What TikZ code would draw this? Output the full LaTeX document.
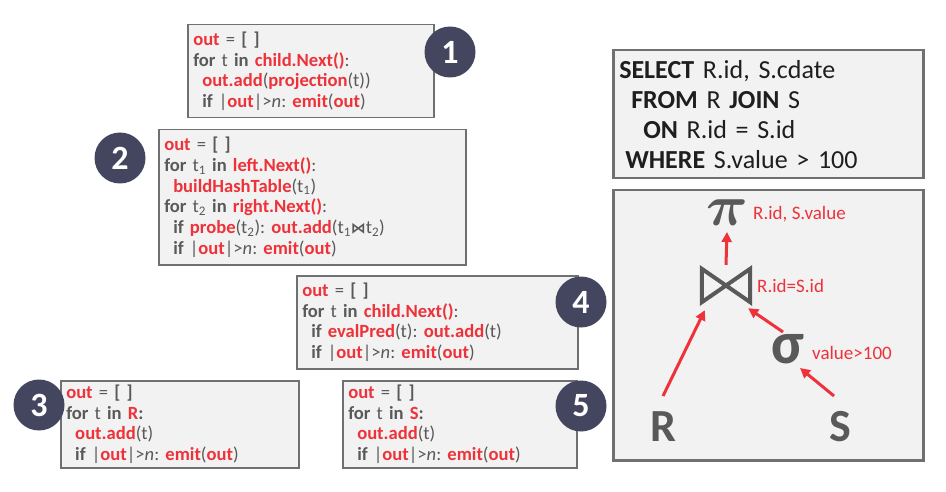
\RequirePackage{fix-cm}
\documentclass[tikz,border=0pt]{standalone}
\usepackage{fontspec}
\setmainfont{Carlito}
\newfontfamily\dvs{DejaVu Sans}
\usetikzlibrary{arrows.meta}
\definecolor{cred}{RGB}{237,50,58}
\definecolor{cgray}{RGB}{89,89,89}
\definecolor{cfill}{RGB}{242,242,242}
\definecolor{cborder}{RGB}{112,112,112}
\definecolor{cnavy}{RGB}{68,70,96}
\definecolor{ctext}{RGB}{30,30,30}
\frenchspacing
\newcommand{\rb}[1]{\textcolor{cred}{\textbf{#1}}}
\newcommand{\gb}[1]{\textbf{#1}}
\newcommand{\ind}{\hspace*{9pt}}
\newcommand{\ifline}{\ind\gb{if} |\rb{out}|>\textit{n}: \rb{emit}(\rb{out})}
\newcommand{\outline}{\rb{out} = \gb{[ ]}}
\tikzset{
  codebox/.style={draw=cborder, fill=cfill, line width=1.5pt, anchor=north west,
    inner xsep=5.5pt, inner ysep=0pt, align=left, text=cgray,
    font=\fontsize{18.6}{20.8}\selectfont\frenchspacing},
  numcirc/.style={circle, fill=cnavy, minimum size=51pt, inner sep=0pt, text=white,
    font=\fontsize{34}{34}\selectfont\bfseries},
  bigbox/.style={draw=cborder, fill=cfill, line width=2.5pt, anchor=north west, inner sep=0pt},
  arr/.style={draw=cred, line width=3pt, -{Triangle[length=10pt,width=10pt]}},
  lbl/.style={text=cred, anchor=west, inner sep=0pt, font=\fontsize{19}{19}\selectfont},
  bigletter/.style={text=cgray, inner sep=0pt, font=\fontsize{46}{46}\selectfont\bfseries}
}
\begin{document}
\begin{tikzpicture}[x=1pt,y=-1pt]
\useasboundingbox[fill=white] (0,0) rectangle (946,492);
% code boxes
\node[codebox, minimum width=246pt, minimum height=93pt, text width=235pt] (b1) at (187,24) {%
\outline\\
\gb{for} t \gb{in} \rb{child.Next()}:\\
\ind\rb{out.add}(\rb{projection}(t))\\
\ifline};
\node[codebox, minimum width=307pt, minimum height=135pt, text width=296pt] (b2) at (158,129) {%
\outline\\
\gb{for} t\textsubscript{1} \gb{in} \rb{left.Next()}:\\
\ind\rb{buildHashTable}(t\textsubscript{1})\\
\gb{for} t\textsubscript{2} \gb{in} \rb{right.Next()}:\\
\ind\gb{if} \rb{probe}(t\textsubscript{2}): \rb{out.add}(t\textsubscript{1}{\dvs\bfseries\fontsize{15}{15}\selectfont ⋈}t\textsubscript{2})\\
\ifline};
\node[codebox, minimum width=281pt, minimum height=93pt, text width=270pt] (b4) at (296,275) {%
\outline\\
\gb{for} t \gb{in} \rb{child.Next()}:\\
\ind\gb{if} \rb{evalPred}(t): \rb{out.add}(t)\\
\ifline};
\node[codebox, minimum width=238pt, minimum height=87pt, text width=227pt] (b3) at (60,380) {%
\outline\\
\gb{for} t \gb{in} \rb{R}\gb{:}\\
\ind\rb{out.add}(t)\\
\ifline};
\node[codebox, minimum width=234pt, minimum height=87pt, text width=223pt] (b5) at (342,380) {%
\outline\\
\gb{for} t \gb{in} \rb{S}\gb{:}\\
\ind\rb{out.add}(t)\\
\ifline};
% number circles
\node[numcirc] (n1) at (450,52) {1};
\node[numcirc] (n2) at (120,158) {2};
\node[numcirc] (n3) at (39,405) {3};
\node[numcirc] (n4) at (581,302) {4};
\node[numcirc] (n5) at (581,406) {5};
% SQL box
\node[bigbox, minimum width=310pt, minimum height=128pt, inner xsep=6pt, align=left,
  text width=298pt, text=ctext, font=\fontsize{26}{30}\selectfont] (sql) at (612,49) {%
\textbf{SELECT} R.id, S.cdate\\
\hspace*{12pt}\textbf{FROM} R \textbf{JOIN} S\\
\hspace*{24pt}\textbf{ON} R.id = S.id\\
\hspace*{6pt}\textbf{WHERE} S.value > 100};
% tree box
\node[bigbox, minimum width=310pt, minimum height=270pt] (tree) at (612,189) {};
\node[text=cgray, inner sep=0pt, font=\fontsize{58}{58}\selectfont\boldmath] (pi) at (727,213) {$\pi$};
\node[inner sep=0pt, minimum width=48pt, minimum height=33pt] (join) at (726,285.5) {};
\draw[cgray, line width=4pt, line join=miter] (join.north west) -- (join.south east) -- (join.north east) -- (join.south west) -- cycle;
\node[text=cgray, inner sep=0pt, font=\fontsize{60}{60}\selectfont\bfseries] (sigma) at (788,349) {σ};
\node[bigletter] (R) at (663,427) {R};
\node[bigletter] (S) at (840,427) {S};
\node[lbl] (lpi) at (753,214) {R.id, S.value};
\node[lbl] (ljoin) at (757,286) {R.id=S.id};
\node[lbl] (lsig) at (812,353) {value>100};
\draw[arr] ([yshift=4pt]join.north) -- (727,232);
\draw[arr] (663,396) -- ([xshift=3pt,yshift=-8pt]join.south west);
\draw[arr] (783,332) -- ([xshift=-2pt,yshift=-6pt]join.south east);
\draw[arr] (834,396) -- (800,368);
\end{tikzpicture}
\end{document}
